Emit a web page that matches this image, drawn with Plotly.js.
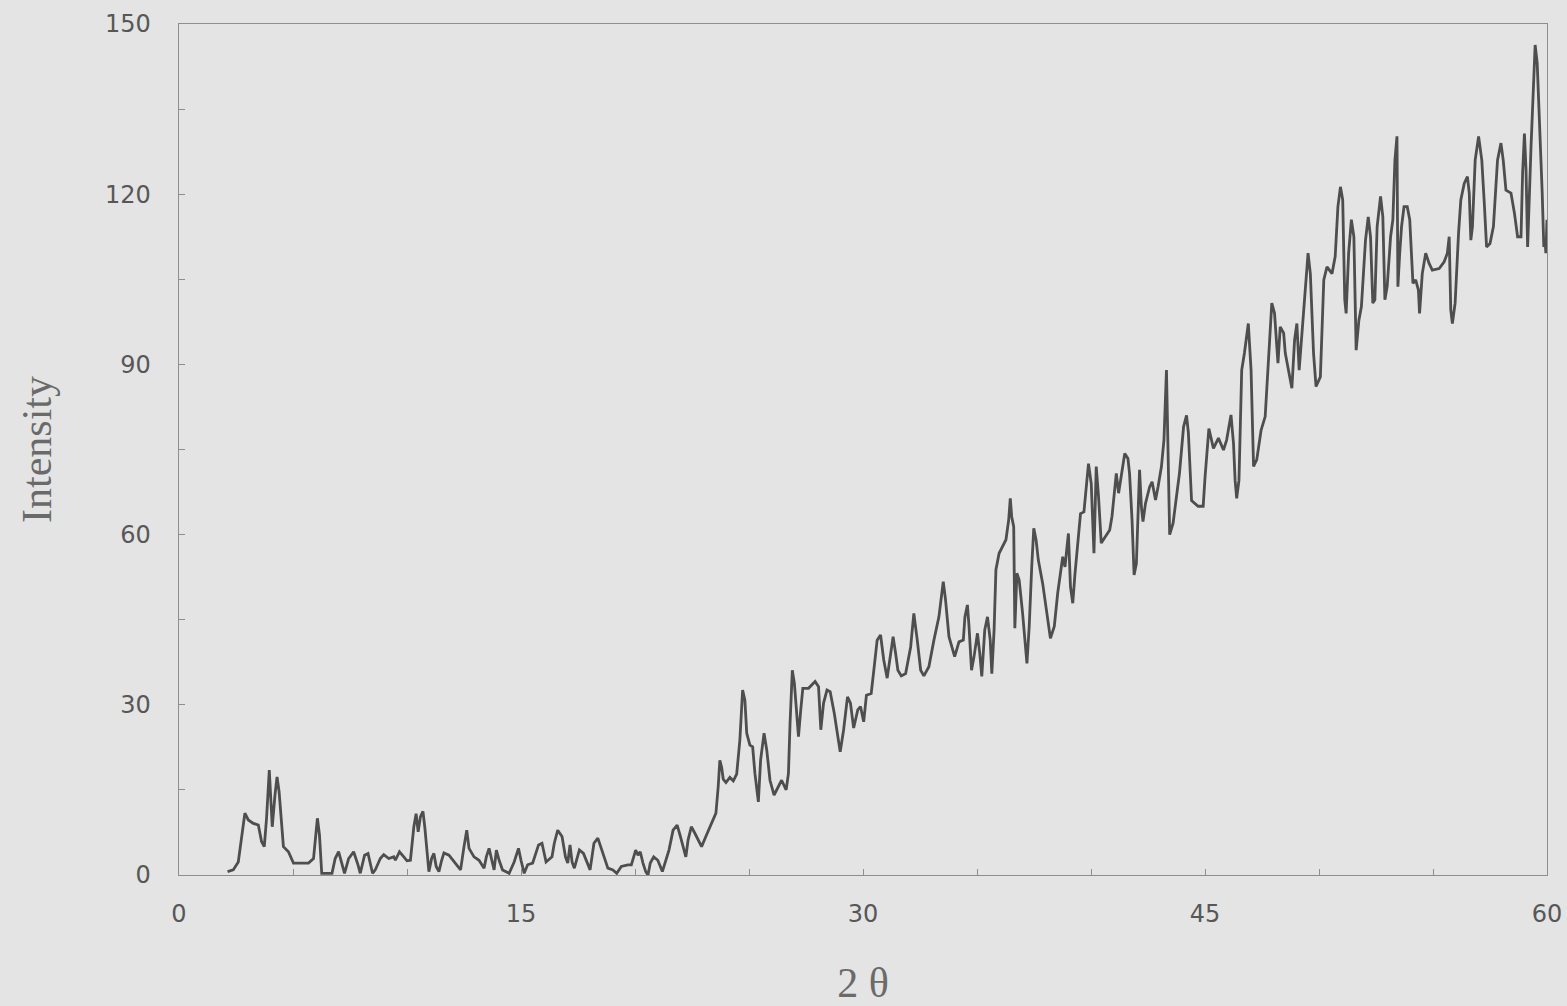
<!DOCTYPE html>
<html>
<head>
<meta charset="utf-8">
<script src="https://cdn.plot.ly/plotly-3.0.1.min.js"></script>
<style>
html, body { margin: 0; padding: 0; background: #e4e4e4; }
#chart { width: 1567px; height: 1006px; }
</style>
</head>
<body>
<div id="chart"></div>
<script>
// 2-theta positions (degrees)
const twoTheta = [
  2.13, 2.38, 2.6, 2.74, 2.89, 3.04, 3.26, 3.48, 3.62, 3.74,
  3.84, 3.96, 4.03, 4.09, 4.21, 4.30, 4.39, 4.50, 4.58, 4.80,
  5.02, 5.16, 5.68, 5.90, 6.0, 6.07, 6.16, 6.26, 6.71, 6.85,
  7.0, 7.26, 7.44, 7.66, 7.85, 7.95, 8.14, 8.29, 8.49, 8.61,
  8.83, 8.98, 9.2, 9.42, 9.49, 9.67, 9.86, 10.0, 10.15, 10.30,
  10.4, 10.49, 10.59, 10.70, 10.78, 10.88, 10.96, 11.08, 11.18, 11.28,
  11.4, 11.52, 11.62, 11.84, 12.06, 12.35, 12.5, 12.62, 12.72, 12.94,
  13.16, 13.38, 13.48, 13.6, 13.72, 13.82, 13.92, 14.04, 14.19, 14.48,
  14.70, 14.89, 15.0, 15.14, 15.29, 15.51, 15.77, 15.92, 16.1, 16.36,
  16.46, 16.61, 16.80, 16.95, 17.05, 17.15, 17.24, 17.34, 17.56, 17.74,
  18.03, 18.2, 18.37, 18.59, 18.81, 19.03, 19.2, 19.4, 19.69, 19.84,
  20.03, 20.13, 20.23, 20.35, 20.47, 20.57, 20.67, 20.82, 21.0, 21.2,
  21.35, 21.49, 21.67, 21.85, 21.99, 22.23, 22.33, 22.47, 22.62, 22.92,
  23.14, 23.36, 23.55, 23.65, 23.72, 23.8, 23.87, 23.99, 24.16, 24.31,
  24.46, 24.6, 24.72, 24.82, 24.9, 25.04, 25.16, 25.26, 25.41, 25.51,
  25.66, 25.78, 25.92, 26.1, 26.29, 26.43, 26.63, 26.73, 26.8, 26.9,
  26.99, 27.1, 27.17, 27.27, 27.36, 27.61, 27.9, 28.05, 28.15, 28.27,
  28.42, 28.56, 28.74, 29.0, 29.15, 29.32, 29.45, 29.59, 29.77, 29.89,
  30.03, 30.15, 30.36, 30.5, 30.62, 30.77, 30.91, 31.06, 31.2, 31.32,
  31.43, 31.53, 31.68, 31.87, 32.09, 32.23, 32.38, 32.53, 32.67, 32.89,
  33.11, 33.33, 33.52, 33.62, 33.77, 34.02, 34.21, 34.4, 34.47, 34.58,
  34.65, 34.76, 34.87, 35.02, 35.12, 35.21, 35.34, 35.46, 35.58, 35.65,
  35.75, 35.83, 35.97, 36.17, 36.27, 36.39, 36.46, 36.52, 36.61, 36.66,
  36.75, 36.85, 37.0, 37.19, 37.29, 37.4, 37.49, 37.59, 37.69, 37.88,
  38.07, 38.22, 38.39, 38.54, 38.76, 38.86, 38.95, 39.01, 39.1, 39.2,
  39.3, 39.45, 39.54, 39.69, 39.79, 39.89, 40.01, 40.13, 40.23, 40.33,
  40.45, 40.55, 40.82, 40.92, 41.04, 41.11, 41.21, 41.33, 41.48, 41.62,
  41.69, 41.8, 41.89, 41.99, 42.06, 42.13, 42.21, 42.28, 42.39, 42.57,
  42.68, 42.83, 42.94, 43.09, 43.2, 43.31, 43.45, 43.6, 43.79, 43.88,
  44.06, 44.19, 44.27, 44.41, 44.7, 44.92, 45.0, 45.17, 45.37, 45.59,
  45.81, 45.95, 46.14, 46.25, 46.32, 46.39, 46.49, 46.61, 46.73, 46.9,
  47.02, 47.13, 47.27, 47.46, 47.64, 47.79, 47.93, 48.05, 48.2, 48.3,
  48.45, 48.52, 48.67, 48.81, 48.93, 49.03, 49.13, 49.25, 49.43, 49.52,
  49.62, 49.76, 49.87, 50.06, 50.21, 50.35, 50.57, 50.71, 50.83, 50.94,
  51.04, 51.13, 51.19, 51.3, 51.42, 51.53, 51.63, 51.75, 51.86, 52.04,
  52.16, 52.26, 52.36, 52.45, 52.55, 52.7, 52.8, 52.89, 52.99, 53.14,
  53.24, 53.33, 53.42, 53.46, 53.54, 53.62, 53.73, 53.87, 53.98, 54.06,
  54.12, 54.24, 54.36, 54.41, 54.53, 54.68, 54.83, 54.97, 55.27, 55.49,
  55.63, 55.71, 55.78, 55.85, 55.97, 56.12, 56.22, 56.37, 56.51, 56.59,
  56.66, 56.73, 56.85, 57.0, 57.14, 57.25, 57.35, 57.5, 57.65, 57.83,
  57.98, 58.08, 58.2, 58.42, 58.57, 58.71, 58.86, 58.93, 59.01, 59.08,
  59.15, 59.3, 59.38, 59.48, 59.57, 59.67, 59.79, 59.86, 59.91, 59.95,
  59.98, 60.0
];

// Intensity values
const intensity = [
  0.6, 0.9, 2.3, 6.5, 10.9, 9.7, 9.1, 8.8, 5.9, 5.0,
  10.0, 18.5, 13.5, 8.5, 14.1, 17.3, 14.7, 8.2, 5.0, 4.1,
  2.1, 2.1, 2.1, 2.9, 7.6, 10.0, 7.1, 0.3, 0.3, 2.9,
  4.1, 0.3, 2.9, 4.1, 1.8, 0.3, 3.5, 3.8, 0.3, 0.9,
  2.9, 3.6, 2.9, 3.2, 2.6, 4.1, 3.2, 2.5, 2.6, 8.5,
  10.8, 7.6, 10.3, 11.2, 8.5, 4.4, 0.6, 2.9, 3.8, 1.5,
  0.6, 2.6, 3.9, 3.5, 2.3, 0.9, 5.0, 7.9, 4.7, 3.2,
  2.6, 1.2, 3.2, 4.7, 2.6, 0.9, 4.4, 2.6, 0.9, 0.3,
  2.3, 4.7, 2.6, 0.3, 1.8, 2.1, 5.3, 5.6, 2.3, 3.2,
  5.6, 7.9, 6.8, 3.2, 2.1, 5.3, 2.3, 1.2, 4.4, 3.8,
  0.9, 5.6, 6.5, 3.8, 1.2, 0.9, 0.3, 1.5, 1.8, 1.8,
  4.4, 3.5, 4.1, 2.1, 0.6, 0.0, 2.1, 3.2, 2.6, 0.6,
  2.6, 4.4, 7.9, 8.8, 6.8, 3.2, 6.2, 8.5, 7.4, 5.0,
  7.1, 9.1, 10.9, 15.6, 20.2, 19.0, 16.9, 16.3, 17.2, 16.6,
  17.8, 23.8, 32.6, 30.8, 25.0, 22.9, 22.6, 17.9, 12.9, 20.3,
  25.0, 22.0, 16.7, 14.1, 15.6, 16.7, 15.0, 17.9, 26.7, 36.1,
  33.8, 28.5, 24.4, 29.1, 32.9, 32.9, 34.1, 33.2, 25.6, 30.3,
  32.6, 32.3, 28.5, 21.7, 25.6, 31.4, 30.3, 25.9, 29.1, 29.7,
  27.0, 31.7, 32.0, 37.0, 41.4, 42.3, 37.9, 34.7, 39.1, 42.0,
  39.1, 36.1, 35.1, 35.5, 40.2, 46.1, 41.4, 36.1, 35.1, 36.7,
  41.4, 45.5, 51.7, 48.5, 42.0, 38.5, 41.1, 41.4, 45.5, 47.6,
  43.8, 36.1, 38.5, 42.6, 39.1, 35.0, 43.2, 45.5, 41.4, 35.5,
  43.2, 53.8, 56.7, 58.2, 59.1, 62.6, 66.4, 63.2, 61.4, 43.5,
  53.2, 52.0, 46.1, 37.3, 43.8, 54.3, 61.1, 59.1, 55.5, 51.4,
  45.5, 41.7, 43.8, 49.7, 56.1, 54.3, 57.9, 60.2, 50.8, 47.9,
  53.2, 59.6, 63.7, 64.0, 67.9, 72.5, 69.0, 56.7, 72.0, 66.7,
  58.5, 59.1, 60.8, 63.2, 68.4, 70.8, 67.3, 70.8, 74.3, 73.4,
  70.8, 62.6, 52.9, 54.9, 64.9, 71.4, 64.9, 62.3, 65.5, 68.4,
  69.3, 66.1, 68.4, 72.0, 76.7, 89.0, 60.0, 62.0, 68.0, 70.8,
  79.0, 81.0, 78.0, 66.0, 65.0, 65.0, 70.0, 78.7, 75.2, 77.0,
  74.9, 76.7, 81.1, 76.1, 69.6, 66.4, 69.6, 89.0, 92.0, 97.2,
  89.0, 72.0, 73.2, 78.4, 80.8, 90.2, 100.8, 99.0, 90.2, 96.6,
  95.5, 92.0, 89.0, 85.8, 94.3, 97.2, 89.0, 95.5, 104.9, 109.6,
  106.0, 92.0, 86.1, 87.8, 104.9, 107.2, 106.0, 109.0, 117.8, 121.3,
  119.0, 101.4, 99.0, 109.6, 115.5, 112.5, 92.5, 97.8, 100.2, 111.9,
  116.0, 112.5, 100.8, 101.4, 114.3, 119.6, 116.0, 101.4, 103.7, 112.5,
  115.5, 126.0, 130.2, 103.7, 109.6, 114.3, 117.8, 117.8, 115.5, 109.6,
  104.3, 104.9, 103.1, 99.0, 106.0, 109.6, 107.8, 106.6, 106.9, 108.1,
  109.6, 112.5, 99.6, 97.2, 100.8, 113.1, 119.0, 121.9, 123.1, 120.2,
  111.9, 114.3, 126.0, 130.2, 126.0, 118.4, 110.7, 111.3, 114.3, 126.0,
  129.0, 126.0, 120.7, 120.2, 116.7, 112.5, 112.5, 123.7, 130.7, 124.3,
  110.7, 128.4, 137.8, 146.3, 143.1, 133.7, 120.2, 110.7, 111.9, 109.6,
  112.5, 115.5
];

const xTickVals = [0, 15, 30, 45, 60];
const xTickText = ['0', '15', '30', '45', '60'];
const yTickVals = [0, 30, 60, 90, 120, 150];
const yTickText = ['0', '30', '60', '90', '120', '150'];

const bg = '#e4e4e4';
const axisColor = '#8e8e8e';
const tickFont = { family: 'DejaVu Sans, Arial, sans-serif', size: 24, color: '#575757' };
const titleFont = { family: 'Liberation Serif, Times New Roman, serif', size: 42, color: '#6a6a6a' };

const trace = {
  x: twoTheta,
  y: intensity,
  type: 'scatter',
  mode: 'lines',
  line: { color: '#4e4e4e', width: 2.8 },
  hoverinfo: 'skip'
};

const layout = {
  width: 1567,
  height: 1006,
  margin: { l: 179, r: 20, t: 24, b: 131 },
  paper_bgcolor: bg,
  plot_bgcolor: bg,
  showlegend: false,
  xaxis: {
    range: [0, 60],
    tickmode: 'array',
    tickvals: xTickVals,
    ticktext: xTickText,
    ticks: 'inside',
    ticklen: 6,
    tickcolor: axisColor,
    tickfont: tickFont,
    ticklabelstandoff: 17,
    minor: { tick0: 0, dtick: 5, ticks: 'inside', ticklen: 6, tickcolor: axisColor },
    showline: true,
    linecolor: axisColor,
    linewidth: 1.3,
    mirror: true,
    showgrid: false,
    zeroline: false,
    title: { text: '2 θ', font: titleFont, standoff: 42 }
  },
  yaxis: {
    range: [0, 150],
    tickmode: 'array',
    tickvals: yTickVals,
    ticktext: yTickText,
    ticks: 'inside',
    ticklen: 6,
    tickcolor: axisColor,
    tickfont: tickFont,
    ticklabelstandoff: 22,
    minor: { tick0: 0, dtick: 15, ticks: 'inside', ticklen: 6, tickcolor: axisColor },
    showline: true,
    linecolor: axisColor,
    linewidth: 1.3,
    mirror: true,
    showgrid: false,
    zeroline: false,
    title: { text: 'Intensity', font: titleFont, standoff: 40 }
  }
};

Plotly.newPlot('chart', [trace], layout, { staticPlot: true, displayModeBar: false });
</script>
</body>
</html>
